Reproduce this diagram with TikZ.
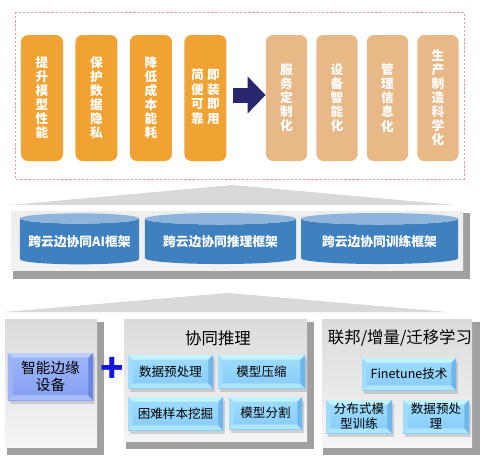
\documentclass[tikz,border=0pt]{standalone}
\usepackage{fontspec}
\setmainfont{Noto Sans CJK SC}
\usetikzlibrary{arrows.meta,positioning,shapes.geometric,shadows}
\definecolor{orangebar}{HTML}{F0A233}
\definecolor{tanbar}{HTML}{E8B987}
\definecolor{navy}{HTML}{27266E}
\definecolor{pinkline}{HTML}{E99AA0}
\definecolor{roof}{HTML}{D9D9D9}
\definecolor{hardshadow}{HTML}{A0A0A0}
\definecolor{cylbody}{HTML}{3F80BF}
\definecolor{cyltop}{HTML}{8DB4DB}
\definecolor{skytop}{HTML}{A0DEFD}
\definecolor{skyface}{HTML}{86CAF8}
\definecolor{skylight}{HTML}{C2F4FF}
\definecolor{skydark}{HTML}{6FB6EC}
\definecolor{liltop}{HTML}{9DB6FA}
\definecolor{lilface}{HTML}{859FF2}
\definecolor{lillight}{HTML}{BCCEFF}
\definecolor{lildark}{HTML}{6A86DE}
\definecolor{plusblue}{HTML}{1414E6}
\newcommand\tilebevel[3]{%
  \fill[#2] (path picture bounding box.north west) -- (path picture bounding box.north east)
    -- ([xshift=-4pt,yshift=-4pt]path picture bounding box.north east)
    -- ([xshift=4pt,yshift=-4pt]path picture bounding box.north west) -- cycle;
  \fill[#1!55!#2] (path picture bounding box.north west) -- ([xshift=4pt,yshift=-4pt]path picture bounding box.north west)
    -- ([xshift=4pt,yshift=4pt]path picture bounding box.south west) -- (path picture bounding box.south west) -- cycle;
  \fill[#1!35!#2] (path picture bounding box.south west) -- (path picture bounding box.south east)
    -- ([xshift=-4pt,yshift=4pt]path picture bounding box.south east)
    -- ([xshift=4pt,yshift=4pt]path picture bounding box.south west) -- cycle;
  \fill[#3] (path picture bounding box.north east) -- (path picture bounding box.south east)
    -- ([xshift=-4pt,yshift=4pt]path picture bounding box.south east)
    -- ([xshift=-4pt,yshift=-4pt]path picture bounding box.north east) -- cycle;
}
\tikzset{
  goal/.style={rectangle,rounded corners=6pt,fill=orangebar,minimum width=1.26cm,minimum height=3.78cm,text=white,align=center,font=\bfseries\fontsize{10.8}{12}\selectfont,inner sep=0pt},
  gain/.style={goal,fill=tanbar,minimum width=1.24cm},
  bigarrow/.style={-{Triangle[length=0.54cm,width=1.08cm]},line width=0.45cm,navy},
  panel/.style={rectangle,top color=black!14,bottom color=black!4,inner sep=0pt},
  stack/.style={cylinder,shape border rotate=90,aspect=0.1,cylinder uses custom fill,cylinder body fill=cylbody,cylinder end fill=cyltop,minimum height=1.53cm,text=white,font=\bfseries\fontsize{10.9}{12}\selectfont,inner sep=0pt},
  tile/.style={rectangle,top color=skytop,bottom color=skyface,minimum height=0.99cm,align=center,font=\fontsize{10.7}{12.8}\selectfont,inner sep=0pt,drop shadow={opacity=0.3,shadow xshift=1.5pt,shadow yshift=-3pt},path picture={\tilebevel{skyface}{skylight}{skydark}}},
  device/.style={tile,top color=liltop,bottom color=lilface,path picture={\tilebevel{lilface}{lillight}{lildark}},font=\fontsize{12.5}{14.5}\selectfont},
  heading/.style={font=\fontsize{14}{16}\selectfont}
}
\begin{document}
\begin{tikzpicture}[x=0.03cm,y=-0.03cm,node distance=0.36cm]
  \useasboundingbox (0,0) rectangle (485,464);
  \draw[pinkline,dash pattern=on 2pt off 1.5pt] (15,12) rectangle (464,179);
  \node[goal] (perf) at (42,98) {提\\升\\模\\型\\性\\能};
  \node[goal,right=of perf] (priv) {保\\护\\数\\据\\隐\\私};
  \node[goal,right=of priv] (cost) {降\\低\\成\\本\\能\\耗};
  \node[goal,right=of cost] (easy) {\begin{tabular}{@{}c@{\hspace{3pt}}c@{}}简&即\\便&装\\可&即\\靠&用\end{tabular}};
  \node[gain] (serv) at (286.5,98) {服\\务\\定\\制\\化};
  \node[gain,right=0.26cm of serv] (dev) {设\\备\\智\\能\\化};
  \node[gain,right=0.26cm of dev] (mgmt) {管\\理\\信\\息\\化};
  \node[gain,right=0.26cm of mgmt] (prod) {生\\产\\制\\造\\科\\学\\化};
  \draw[bigarrow] ([xshift=0.18cm,yshift=0.09cm]easy.east) -- ([yshift=0.09cm]serv.west);

  \fill[roof] (10,205) -- (233,185) -- (455,205) -- cycle;
  \fill[hardshadow] (13,213) rectangle (470,279);
  \node[panel,top color=black!7,bottom color=black!5,minimum width=13.56cm,minimum height=1.77cm] (base) at (237,240.5) {};
  \node[stack,minimum width=3.57cm] (aif) at (79.5,241.5) {跨云边协同AI框架};
  \node[stack,minimum width=4.53cm] (inf) at (220.5,241.5) {跨云边协同推理框架};
  \node[stack,minimum width=4.71cm] (trn) at (379.5,241.5) {跨云边协同训练框架};

  \fill[roof] (3,312) -- (228,293) -- (448,312) -- cycle;
  \fill[hardshadow] (7,322) rectangle (104,455);
  \fill[hardshadow] (126,322) rectangle (314,449);
  \fill[hardshadow] (323,322) rectangle (480,455);
  \node[panel,minimum width=2.76cm,minimum height=3.84cm] (edge) at (51,383) {};
  \node[panel,minimum width=5.49cm,minimum height=3.66cm] (coop) at (215.5,380) {};
  \node[panel,minimum width=4.5cm,minimum height=3.84cm] (learn) at (397,383) {};

  \node[device,minimum width=2.55cm,minimum height=1.41cm] (box) at (50.5,376.5) {智能边缘\\设备};
  \node[text=plusblue,font=\bfseries\fontsize{33}{33}\selectfont] (plus) at (112,370) {+};
  \node[heading] (coinf) at (218,338) {协同推理};
  \node[tile,minimum width=2.55cm] (prep) at (170.5,371.5) {数据预处理};
  \node[tile,minimum width=2.61cm] (zip) at (261.5,371.5) {模型压缩};
  \node[tile,minimum width=2.85cm] (hard) at (175.5,413.5) {困难样本挖掘};
  \node[tile,minimum width=2.19cm,minimum height=0.96cm] (split) at (265.5,413) {模型分割};
  \node[heading] (fed) at (400,338) {联邦/增量/迁移学习};
  \node[tile,minimum width=2.82cm,minimum height=0.96cm] (tune) at (409,374) {Finetune技术};
  \node[tile,minimum width=1.98cm] (dist) at (359,416.5) {分布式模\\型训练};
  \node[tile,minimum width=1.98cm] (prep2) at (436,416.5) {数据预处\\理};
\end{tikzpicture}
\end{document}
